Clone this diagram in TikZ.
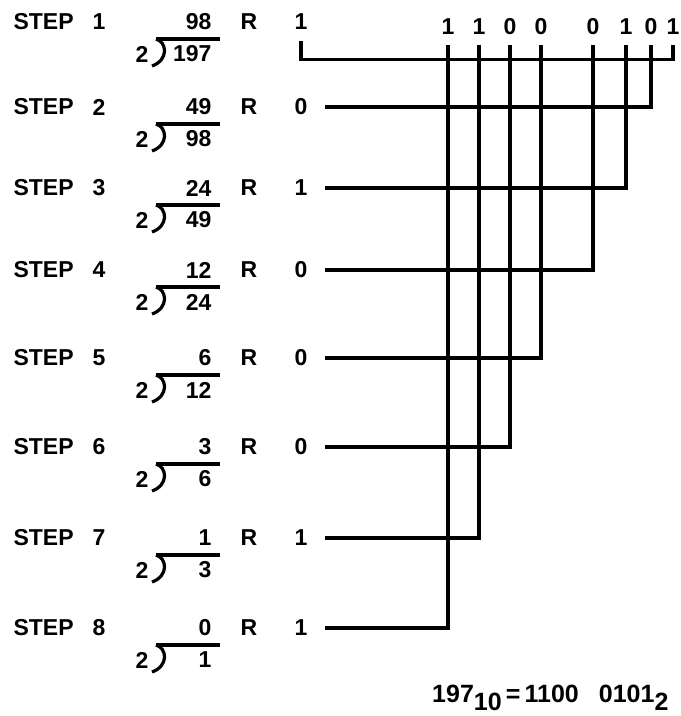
\documentclass[tikz,border=0pt]{standalone}
\usepackage{fontspec}
\setmainfont{Liberation Sans}
\usetikzlibrary{calc}
\def\radix#1{\raisebox{-4pt}{#1}}

\begin{document}
\begin{tikzpicture}[x=0.5pt, y=-0.5pt, line width=1.6pt,
		every node/.style={font=\fontsize{11.5}{13}\selectfont\bfseries, inner sep=0pt},
		remnode/.style={inner xsep=8pt},
		bitnode/.style={inner ysep=4pt}]
		%%%%% START %%%%%
		
		\useasboundingbox (0, 0) rectangle (680, 716);
		
		\foreach \n/\y/\quo/\dvd/\rem/\col in {1/22/98/197/1/673, 2/107/49/98/0/651, 3/188/24/49/1/626,
			4/270/12/24/0/593, 5/358/6/12/0/541, 6/447/3/6/0/510, 7/538/1/3/1/479, 8/628/0/1/1/448}
		{
			\node[anchor=west] (stp\n) at (12, \y) {STEP};
			\node (num\n) at (99, \y) {\n};
			\node[anchor=east] (quo\n) at (213, \y) {\quo};
			\draw (156, {\y+17}) -- (220, {\y+17});
			\draw (156, {\y+17}) .. controls (167, {\y+20}) and (169, {\y+38}) .. (152, {\y+44});
			\node (two\n) at (142, {\y+32}) {2};
			\node[anchor=east] (div\n) at (213, {\y+32}) {\dvd};
			\node (rr\n) at (249, \y) {R};
			\node[remnode] (rem\n) at (301, \y) {\rem};
			\node[bitnode] (bit\n) at (\col, 27) {\rem};
		}
		
		\draw (rem1.south) ++(0, 9) -- ++(0, 19) -| (bit1.south);
		\draw (rem2.east) -| (bit2.south);
		\draw (rem3.east) -| (bit3.south);
		\draw (rem4.east) -| (bit4.south);
		\draw (rem5.east) -| (bit5.south);
		\draw (rem6.east) -| (bit6.south);
		\draw (rem7.east) -| (bit7.south);
		\draw (rem8.east) -| (bit8.south);
		
		\node[anchor=base east, font=\fontsize{12.5}{14}\selectfont\bfseries] (eqn) at (670, 702)
			{197\radix{10}\,=\,1100\hspace{10pt}0101\radix{2}};
		
		%%%%% END %%%%%
\end{tikzpicture}
\end{document}
